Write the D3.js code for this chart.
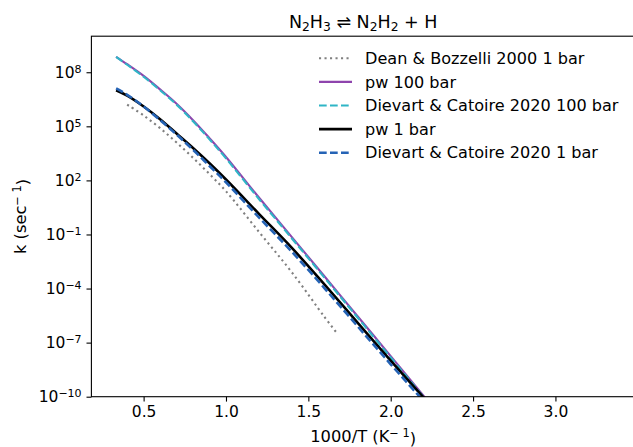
<!DOCTYPE html>
<html>
<head>
<meta charset="utf-8">
<script src="https://cdn.jsdelivr.net/npm/d3@7"></script>
<style>
  body { margin: 0; background: #fff; }
  svg { font-family: "DejaVu Sans", sans-serif; }
  .tick text { font-size: 15.5px; fill: #000; font-family: "DejaVu Sans", sans-serif; }
  .tick line { stroke: #000; stroke-width: 1.1; }
  .line { fill: none; }
</style>
</head>
<body>
<div id="chart"></div>
<script>
// 1000/T values (K^-1)
var invT = [0.333, 0.4, 0.5, 0.6, 0.7, 0.8, 0.9, 1.0, 1.2, 1.4, 1.6, 1.8, 2.0, 2.2, 2.5];
var deanInvT = [0.4, 0.5, 0.6, 0.7, 0.8, 0.9, 1.0, 1.2, 1.4, 1.6, 1.667];

// rate constants k (sec^-1)
var dean1bar = [1.6e6, 4.0e5, 7.9e4, 1.26e4, 1.8e3, 224, 25, 0.14, 7.9e-4, 2.5e-6, 4.0e-7];
var pw100bar = [7.2e8, 2.8e8, 6.3e7, 1.12e7, 1.8e6, 2.2e5, 2.2e4, 2.0e3, 11.2, 0.071, 4.5e-4, 2.8e-6, 1.8e-8, 1.1e-10, 5.6e-14];
var dc100bar = [7.1e8, 2.6e8, 5.6e7, 1.0e7, 1.6e6, 1.9e5, 1.9e4, 1.66e3, 9.3, 0.060, 3.8e-4, 2.4e-6, 1.5e-8, 9.5e-11, 5.0e-14];
var pw1bar = [1.0e7, 5.0e6, 1.26e6, 2.5e5, 4.0e4, 6.3e3, 890, 112, 1.4, 0.018, 1.6e-4, 1.26e-6, 1.0e-8, 8.9e-11, 6.3e-14];
var dc1bar = [1.26e7, 5.6e6, 1.26e6, 2.2e5, 3.5e4, 5.0e3, 630, 79, 0.89, 0.011, 1.0e-4, 7.9e-7, 6.3e-9, 5.6e-11, 4.0e-14];

var xTicks = [0.5, 1.0, 1.5, 2.0, 2.5, 3.0];
var yTickExps = [-10, -7, -4, -1, 2, 5, 8];

function init() {
    var w = 633, h = 447;
    var pLeft = 91.4, pRight = 635, pTop = 36.2, pBottom = 396.7;

    var svg = d3.select("#chart").append("svg")
        .attr("width", w)
        .attr("height", h);

    var xScale = d3.scaleLinear().domain([0.183, 3.483]).range([pLeft, pRight]);
    var yScale = d3.scaleLog().domain([1e-10, 1e10]).range([pBottom, pTop]);

    svg.append("clipPath").attr("id", "clip")
      .append("rect")
        .attr("x", pLeft).attr("y", pTop)
        .attr("width", pRight - pLeft).attr("height", pBottom - pTop);

    function toPts(xs, ys) {
        return xs.map(function(x, i) { return { x: x, k: ys[i] }; });
    }

    var line = d3.line()
        .x(function(d) { return xScale(d.x); })
        .y(function(d) { return yScale(d.k); })
        .curve(d3.curveCatmullRom);

    var series = [
        { name: "Dean & Bozzelli 2000 1 bar", xs: deanInvT, ys: dean1bar, color: "#808080", width: 2.1, dash: "2.1,3.4" },
        { name: "pw 100 bar", xs: invT, ys: pw100bar, color: "#8e44ad", width: 2.1, dash: null },
        { name: "Dievart & Catoire 2020 100 bar", xs: invT, ys: dc100bar, color: "#2fb5c6", width: 2.1, dash: "7.7,3.3" },
        { name: "pw 1 bar", xs: invT, ys: pw1bar, color: "#000000", width: 2.6, dash: null },
        { name: "Dievart & Catoire 2020 1 bar", xs: invT, ys: dc1bar, color: "#2563b5", width: 2.6, dash: "7.7,3.3" }
    ];

    var plot = svg.append("g").attr("clip-path", "url(#clip)");
    series.forEach(function(s) {
        plot.append("path")
            .datum(toPts(s.xs, s.ys))
            .attr("class", "line")
            .attr("d", line)
            .attr("stroke", s.color)
            .attr("stroke-width", s.width)
            .attr("stroke-dasharray", s.dash);
    });

    // axes
    var xAxis = d3.axisBottom(xScale)
        .tickValues(xTicks)
        .tickFormat(d3.format(".1f"))
        .tickSize(4.9).tickPadding(4.2).tickSizeOuter(0);
    var gx = svg.append("g")
        .attr("transform", "translate(0," + pBottom + ")")
        .call(xAxis);
    gx.select(".domain").remove();

    var yAxis = d3.axisLeft(yScale)
        .tickValues(yTickExps.map(function(e) { return Math.pow(10, e); }))
        .tickFormat("")
        .tickSize(4.9).tickSizeOuter(0);
    var gy = svg.append("g")
        .attr("transform", "translate(" + pLeft + ",0)")
        .call(yAxis);
    gy.select(".domain").remove();
    gy.selectAll(".tick").each(function(d) {
        var e = Math.round(Math.log10(d));
        var t = d3.select(this).select("text")
            .attr("x", -9.8).attr("dy", "0.32em")
            .attr("text-anchor", "end");
        t.append("tspan").text("10");
        t.append("tspan").attr("dy", "-0.45em").style("font-size", "11px")
            .text(String(e).replace("-", "\u2212"));
    });

    // spines
    svg.append("rect")
        .attr("x", pLeft).attr("y", pTop)
        .attr("width", pRight - pLeft).attr("height", pBottom - pTop)
        .attr("fill", "none").attr("stroke", "#000").attr("stroke-width", 1.1);

    // title
    var title = svg.append("text")
        .attr("x", (pLeft + pRight) / 2).attr("y", 27.5)
        .attr("text-anchor", "middle")
        .style("font-size", "17.5px");
    var parts = [["N", 0], ["2", 1], ["H", 0], ["3", 1], [" \u21CC N", 0], ["2", 1], ["H", 0], ["2", 1], [" + H", 0]];
    parts.forEach(function(p, i) {
        var ts = title.append("tspan").text(p[0]);
        if (p[1]) ts.attr("dy", "3.5px").style("font-size", "12.3px");
        else if (i > 0 && parts[i - 1][1]) ts.attr("dy", "-3.5px");
    });

    // axis labels
    var xl = svg.append("text")
        .attr("x", (pLeft + pRight) / 2).attr("y", 442)
        .attr("text-anchor", "middle")
        .style("font-size", "16.3px");
    xl.append("tspan").text("1000/T (K");
    xl.append("tspan").attr("dy", "-0.45em").style("font-size", "11.4px").text("\u2212 1");
    xl.append("tspan").attr("dy", "0.45em").text(")");

    var yl = svg.append("text")
        .attr("transform", "translate(26," + ((pTop + pBottom) / 2) + ") rotate(-90)")
        .attr("text-anchor", "middle")
        .style("font-size", "16.3px");
    yl.append("tspan").text("k (sec");
    yl.append("tspan").attr("dy", "-0.45em").style("font-size", "11.4px").text("\u2212 1");
    yl.append("tspan").attr("dy", "0.45em").text(")");

    // legend
    var legend = svg.append("g");
    series.forEach(function(s, i) {
        var y = 58.3 + i * 23.6;
        legend.append("line")
            .attr("x1", 319).attr("x2", 352)
            .attr("y1", y).attr("y2", y)
            .attr("stroke", s.color)
            .attr("stroke-width", s.width)
            .attr("stroke-dasharray", s.dash);
        legend.append("text")
            .attr("x", 365).attr("y", y).attr("dy", "0.35em")
            .style("font-size", "16.1px")
            .text(s.name);
    });
}
window.onload = init;
</script>
</body>
</html>
